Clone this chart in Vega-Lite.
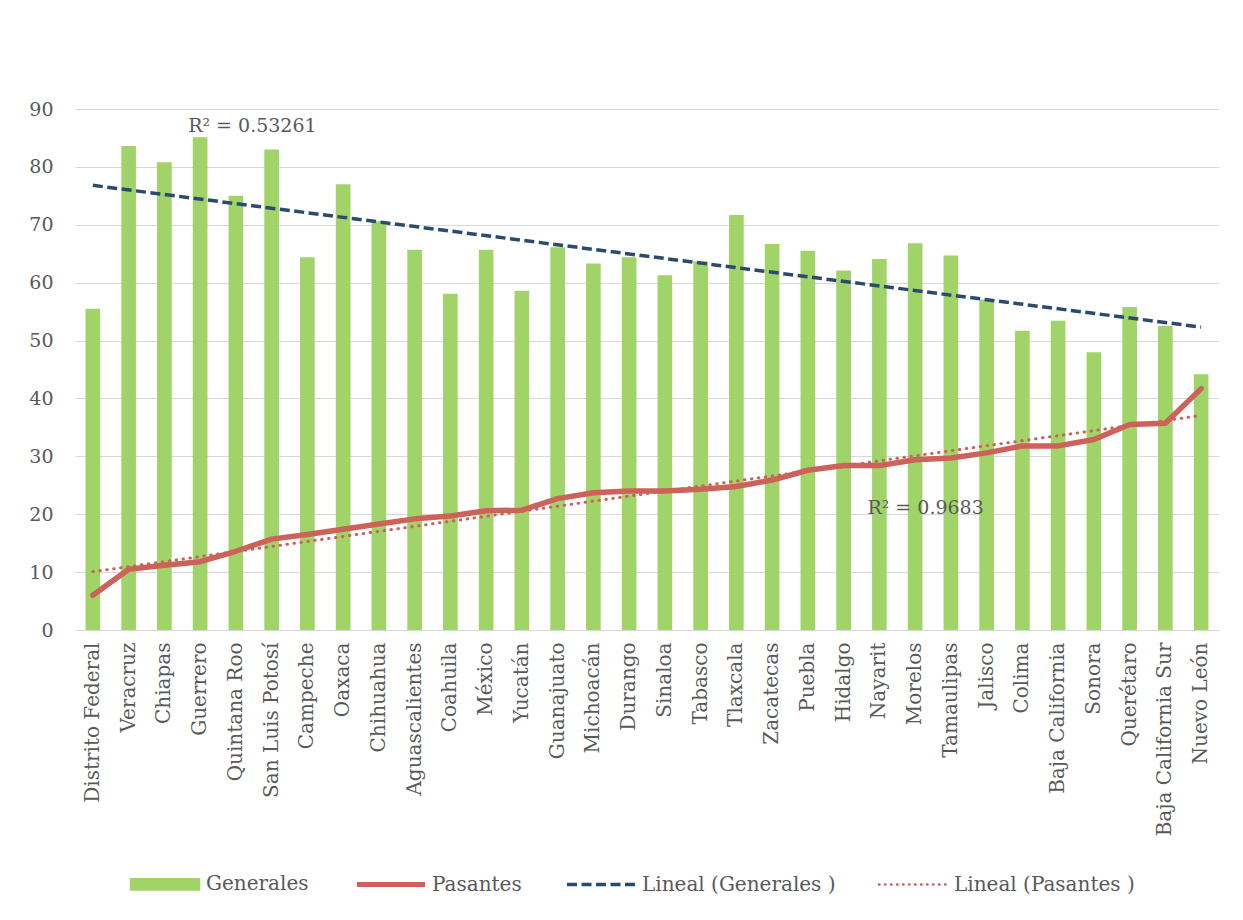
{
  "$schema": "https://vega.github.io/schema/vega-lite/v6.json",
  "autosize": {"type": "none"},
  "width": 1144,
  "height": 521,
  "padding": {"left": 75, "top": 109, "right": 24, "bottom": 290},
  "background": "white",
  "config": {
    "view": {"stroke": null},
    "font": "DejaVu Serif",
    "axis": {"labelFont": "DejaVu Serif", "labelColor": "#595959", "labelFontSize": 19, "ticks": false, "title": null}
  },
  "data": {
    "values": [
      {"state": "Distrito Federal", "i": 1, "Generales": 55.5, "Pasantes": 6.0},
      {"state": "Veracruz", "i": 2, "Generales": 83.6, "Pasantes": 10.5},
      {"state": "Chiapas", "i": 3, "Generales": 80.8, "Pasantes": 11.2},
      {"state": "Guerrero", "i": 4, "Generales": 85.1, "Pasantes": 11.8},
      {"state": "Quintana Roo", "i": 5, "Generales": 75.0, "Pasantes": 13.6},
      {"state": "San Luis Potosí", "i": 6, "Generales": 83.0, "Pasantes": 15.7},
      {"state": "Campeche", "i": 7, "Generales": 64.4, "Pasantes": 16.5},
      {"state": "Oaxaca", "i": 8, "Generales": 77.0, "Pasantes": 17.4},
      {"state": "Chihuahua", "i": 9, "Generales": 70.6, "Pasantes": 18.3},
      {"state": "Aguascalientes", "i": 10, "Generales": 65.7, "Pasantes": 19.2},
      {"state": "Coahuila", "i": 11, "Generales": 58.1, "Pasantes": 19.7},
      {"state": "México", "i": 12, "Generales": 65.7, "Pasantes": 20.6},
      {"state": "Yucatán", "i": 13, "Generales": 58.6, "Pasantes": 20.7},
      {"state": "Guanajuato", "i": 14, "Generales": 66.1, "Pasantes": 22.7},
      {"state": "Michoacán", "i": 15, "Generales": 63.3, "Pasantes": 23.7},
      {"state": "Durango", "i": 16, "Generales": 64.4, "Pasantes": 24.0},
      {"state": "Sinaloa", "i": 17, "Generales": 61.3, "Pasantes": 24.0},
      {"state": "Tabasco", "i": 18, "Generales": 63.7, "Pasantes": 24.3},
      {"state": "Tlaxcala", "i": 19, "Generales": 71.7, "Pasantes": 24.8},
      {"state": "Zacatecas", "i": 20, "Generales": 66.7, "Pasantes": 25.9},
      {"state": "Puebla", "i": 21, "Generales": 65.5, "Pasantes": 27.6},
      {"state": "Hidalgo", "i": 22, "Generales": 62.1, "Pasantes": 28.4},
      {"state": "Nayarit", "i": 23, "Generales": 64.1, "Pasantes": 28.4},
      {"state": "Morelos", "i": 24, "Generales": 66.8, "Pasantes": 29.4},
      {"state": "Tamaulipas", "i": 25, "Generales": 64.7, "Pasantes": 29.7},
      {"state": "Jalisco", "i": 26, "Generales": 57.1, "Pasantes": 30.6},
      {"state": "Colima", "i": 27, "Generales": 51.7, "Pasantes": 31.8},
      {"state": "Baja California", "i": 28, "Generales": 53.4, "Pasantes": 31.8},
      {"state": "Sonora", "i": 29, "Generales": 48.0, "Pasantes": 32.9},
      {"state": "Querétaro", "i": 30, "Generales": 55.8, "Pasantes": 35.5},
      {"state": "Baja California Sur", "i": 31, "Generales": 52.5, "Pasantes": 35.7},
      {"state": "Nuevo León", "i": 32, "Generales": 44.2, "Pasantes": 41.7}
    ]
  },
  "resolve": {"scale": {"x": "independent"}, "axis": {"x": "independent"}},
  "layer": [
    {
      "mark": {"type": "bar"},
      "encoding": {
        "x": {
          "field": "state", "type": "ordinal", "sort": null,
          "scale": {"paddingInner": 0.59, "paddingOuter": 0.295},
          "axis": {"labelAngle": -90, "labelAlign": "right", "labelBaseline": "middle", "labelPadding": 12, "labelFontSize": 20, "labelLimit": 0, "domain": true, "domainColor": "#D9D9D9", "grid": false}
        },
        "y": {
          "field": "Generales", "type": "quantitative",
          "scale": {"domain": [0, 90], "nice": false},
          "axis": {"values": [0, 10, 20, 30, 40, 50, 60, 70, 80, 90], "domain": false, "grid": true, "gridColor": "#D9D9D9", "gridWidth": 1, "labelPadding": 22}
        },
        "color": {
          "datum": "Generales",
          "scale": {
            "domain": ["Generales", "Pasantes", "Lineal (Generales )", "Lineal (Pasantes )"],
            "range": ["#A0D468", "#CD625A", "#2A4A6E", "#CD625A"]
          },
          "legend": {
            "title": null,
            "orient": "none",
            "direction": "horizontal",
            "legendX": 80,
            "legendY": 765,
            "labelFont": "DejaVu Serif",
            "labelFontSize": 20,
            "labelColor": "#595959",
            "labelLimit": 0,
            "labelOffset": 31,
            "columnPadding": 38,
            "symbolSize": 4624,
            "encode": {
              "symbols": {
                "update": {
                  "shape": {"signal": "datum.value === 'Generales' ? 'M-1,-0.15H1V0.15H-1Z' : 'stroke'"},
                  "fill": {"signal": "datum.value === 'Generales' ? '#A0D468' : 'transparent'"},
                  "stroke": {"signal": "datum.value === 'Generales' ? 'transparent' : (datum.value === 'Lineal (Generales )' ? '#2A4A6E' : '#CD625A')"},
                  "strokeWidth": {"signal": "datum.value === 'Pasantes' ? 5 : (datum.value === 'Lineal (Generales )' ? 3.5 : 2.5)"},
                  "strokeDash": {"signal": "datum.value === 'Lineal (Generales )' ? [10, 4.5] : (datum.value === 'Lineal (Pasantes )' ? [0.5, 5.5] : [])"},
                  "strokeCap": {"signal": "datum.value === 'Lineal (Pasantes )' ? 'round' : 'butt'"},
                  "opacity": {"value": 1}
                }
              }
            }
          }
        }
      }
    },
    {
      "mark": {"type": "line", "strokeWidth": 5.5, "strokeJoin": "round", "strokeCap": "round"},
      "encoding": {
        "x": {"field": "state", "type": "ordinal", "sort": null, "scale": {"paddingInner": 0.59, "paddingOuter": 0.295}, "axis": null},
        "y": {"field": "Pasantes", "type": "quantitative"},
        "color": {"datum": "Pasantes"}
      }
    },
    {
      "transform": [{"regression": "Generales", "on": "i"}],
      "mark": {"type": "line", "strokeWidth": 3.5, "strokeDash": [10, 4.5]},
      "encoding": {
        "x": {"field": "i", "type": "quantitative", "scale": {"domain": [0.5, 32.5], "nice": false, "zero": false}, "axis": null},
        "y": {"field": "Generales", "type": "quantitative"},
        "color": {"datum": "Lineal (Generales )"}
      }
    },
    {
      "transform": [{"regression": "Pasantes", "on": "i"}],
      "mark": {"type": "line", "strokeWidth": 3, "strokeDash": [0.5, 6.5], "strokeCap": "round"},
      "encoding": {
        "x": {"field": "i", "type": "quantitative", "scale": {"domain": [0.5, 32.5], "nice": false, "zero": false}, "axis": null},
        "y": {"field": "Pasantes", "type": "quantitative"},
        "color": {"datum": "Lineal (Pasantes )"}
      }
    },
    {
      "data": {"values": [
        {"i": 4, "v": 87.0, "label": "R² = 0.53261"},
        {"i": 23, "v": 21.1, "label": "R² = 0.9683"}
      ]},
      "mark": {"type": "text", "align": "left", "baseline": "middle", "dx": -12, "font": "DejaVu Serif", "fontSize": 19, "color": "#595959"},
      "encoding": {
        "x": {"field": "i", "type": "quantitative", "scale": {"domain": [0.5, 32.5], "nice": false, "zero": false}, "axis": null},
        "y": {"field": "v", "type": "quantitative"},
        "text": {"field": "label"}
      }
    }
  ]
}
